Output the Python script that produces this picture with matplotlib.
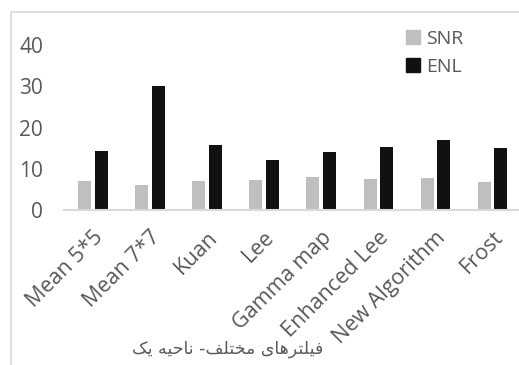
import numpy as np
import matplotlib.pyplot as plt
from matplotlib.patches import Rectangle, Patch

filters = ["Mean 5*5", "Mean 7*7", "Kuan", "Lee", "Gamma map",
           "Enhanced Lee", "New Algorithm", "Frost"]
snr = [7.1, 6.1, 7.1, 7.3, 8.1, 7.6, 7.8, 6.8]
enl = [14.4, 30.0, 15.8, 12.1, 14.0, 15.2, 17.0, 15.0]
y_ticks = [0, 10, 20, 30, 40]
x_title = "فیلترهای مختلف- ناحیه یک"

# Persian contextual forms (isolated, final, initial, medial)
FORMS = {
    'ف': ('\uFED1', '\uFED2', '\uFED3', '\uFED4'),
    'ی': ('\uFBFC', '\uFBFD', '\uFBFE', '\uFBFF'),
    'ل': ('\uFEDD', '\uFEDE', '\uFEDF', '\uFEE0'),
    'ت': ('\uFE95', '\uFE96', '\uFE97', '\uFE98'),
    'ر': ('\uFEAD', '\uFEAE', None, None),
    'ه': ('\uFEE9', '\uFEEA', '\uFEEB', '\uFEEC'),
    'ا': ('\uFE8D', '\uFE8E', None, None),
    'م': ('\uFEE1', '\uFEE2', '\uFEE3', '\uFEE4'),
    'خ': ('\uFEA5', '\uFEA6', '\uFEA7', '\uFEA8'),
    'ن': ('\uFEE5', '\uFEE6', '\uFEE7', '\uFEE8'),
    'ح': ('\uFEA1', '\uFEA2', '\uFEA3', '\uFEA4'),
    'ک': ('\uFB8E', '\uFB8F', '\uFB90', '\uFB91'),
}


def shape_rtl(text):
    out = []
    for i, ch in enumerate(text):
        if ch not in FORMS:
            out.append(ch)
            continue
        prev = text[i - 1] if i > 0 else ''
        nxt = text[i + 1] if i + 1 < len(text) else ''
        join_prev = prev in FORMS and FORMS[prev][2] is not None
        join_next = nxt in FORMS and FORMS[ch][2] is not None
        iso, fin, ini, med = FORMS[ch]
        if join_prev and join_next:
            out.append(med)
        elif join_prev:
            out.append(fin)
        elif join_next:
            out.append(ini)
        else:
            out.append(iso)
    return ''.join(reversed(out))


plt.rcParams['font.family'] = ['Open Sans', 'DejaVu Sans']
text_color = '#595959'
W, H = 519, 365

fig = plt.figure(figsize=(W / 100, H / 100), dpi=100)

# chart area border
fig.patches.append(Rectangle((10.5 / W, -0.1), 1.2, 1 - 11.5 / H + 0.1,
                             transform=fig.transFigure, fill=False,
                             edgecolor='#d9d9d9', linewidth=1.2))

ax = fig.add_axes([64 / W, 1 - 210.3 / H, 457 / W, 165.3 / H])
x = np.arange(len(filters))
w = 0.228
ax.bar(x - 0.142, snr, w, color='#bfbfbf', label='SNR')
ax.bar(x + 0.148, enl, w, color='#111111', label='ENL')

ax.set_xlim(-0.5, len(filters) - 0.5)
ax.set_ylim(0, 40)
ax.set_yticks(y_ticks)
ax.set_xticks(x)
ax.set_xticklabels(filters, rotation=45, ha='right', va='top',
                   rotation_mode='anchor', fontsize=15.5, color=text_color)
ax.tick_params(axis='y', length=0, pad=15, labelsize=15, labelcolor=text_color)
ax.tick_params(axis='x', length=0, pad=12)
for side in ['top', 'right', 'left']:
    ax.spines[side].set_visible(False)
ax.spines['bottom'].set_color('#d9d9d9')
ax.spines['bottom'].set_linewidth(1.5)
ax.patch.set_alpha(0)

handles = [Patch(color='#bfbfbf'), Patch(color='#111111')]
fig.legend(handles, ['SNR', 'ENL'], loc='upper left',
           bbox_to_anchor=(398 / W, 1 - 22 / H), frameon=False,
           fontsize=14, labelcolor=text_color, handlelength=0.75,
           handleheight=0.75, handletextpad=0.3, labelspacing=0.5,
           borderaxespad=0)

fig.text(227.5 / W, 1 - 349 / H, shape_rtl(x_title), ha='center',
         va='center', fontsize=12.5, color=text_color,
         family=['DejaVu Sans'])

fig.savefig('out.png', dpi=100)
